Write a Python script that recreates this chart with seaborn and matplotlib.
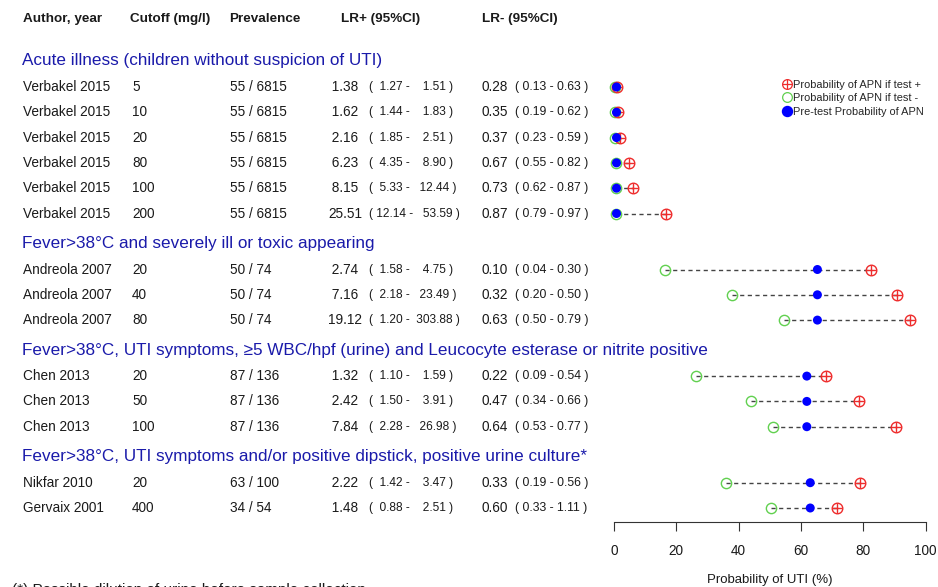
import matplotlib
matplotlib.use("Agg")
import matplotlib.pyplot as plt
import seaborn as sns
import pandas as pd
from matplotlib.lines import Line2D

# ---- data ----
sections = [
    "Acute illness (children without suspicion of UTI)",
    "Fever>38°C and severely ill or toxic appearing",
    "Fever>38°C, UTI symptoms, ≥5 WBC/hpf (urine) and Leucocyte esterase or nitrite positive",
    "Fever>38°C, UTI symptoms and/or positive dipstick, positive urine culture*",
]
section_of = [0, 0, 0, 0, 0, 0, 1, 1, 1, 2, 2, 2, 3, 3]
authors = ["Verbakel 2015"] * 6 + ["Andreola 2007"] * 3 + ["Chen 2013"] * 3 + ["Nikfar 2010", "Gervaix 2001"]
cutoffs = [5, 10, 20, 80, 100, 200, 20, 40, 80, 20, 50, 100, 20, 400]
prevalence = ["55 / 6815"] * 6 + ["50 / 74"] * 3 + ["87 / 136"] * 3 + ["63 / 100", "34 / 54"]
lrp = [1.38, 1.62, 2.16, 6.23, 8.15, 25.51, 2.74, 7.16, 19.12, 1.32, 2.42, 7.84, 2.22, 1.48]
lrp_lo = [1.27, 1.44, 1.85, 4.35, 5.33, 12.14, 1.58, 2.18, 1.20, 1.10, 1.50, 2.28, 1.42, 0.88]
lrp_hi = [1.51, 1.83, 2.51, 8.90, 12.44, 53.59, 4.75, 23.49, 303.88, 1.59, 3.91, 26.98, 3.47, 2.51]
lrn = [0.28, 0.35, 0.37, 0.67, 0.73, 0.87, 0.10, 0.32, 0.63, 0.22, 0.47, 0.64, 0.33, 0.60]
lrn_lo = [0.13, 0.19, 0.23, 0.55, 0.62, 0.79, 0.04, 0.20, 0.50, 0.09, 0.34, 0.53, 0.19, 0.33]
lrn_hi = [0.63, 0.62, 0.59, 0.82, 0.87, 0.97, 0.30, 0.50, 0.79, 0.54, 0.66, 0.77, 0.56, 1.11]

# probabilities (%) estimated from the dot plot
p_pre = [0.8] * 6 + [65.3] * 3 + [61.9] * 3 + [63.0, 63.0]
p_neg = [0.2, 0.3, 0.3, 0.5, 0.6, 0.7, 16.5, 38.0, 54.7, 26.2, 44.0, 51.2, 35.8, 50.5]
p_pos = [1.1, 1.3, 1.8, 4.8, 6.0, 16.6, 82.6, 90.8, 94.9, 67.9, 78.7, 90.5, 79.1, 71.6]

headers = ["Author, year", "Cutoff (mg/l)", "Prevalence", "LR+ (95%CI)", "LR- (95%CI)"]
xticks = [0, 20, 40, 60, 80, 100]

W, H = 938, 587
RED, GREEN, BLUE = "#EE2C2C", "#61D04F", "#0000FF"
TXT, SEC = "#1a1a1a", "#1A1AAA"
NARROW = ["Liberation Sans Narrow", "Liberation Sans"]

sns.set_theme(style="white")
plt.rcParams["font.family"] = ["Liberation Sans", "DejaVu Sans"]

# vertical layout of the rows (pixels from top)
ys_title, ys_row = [], []
y = 61 - 30
for s in range(len(sections)):
    y += 30
    ys_title.append(y)
    y += 26 - 25.3
    for i in range(len(authors)):
        if section_of[i] == s:
            y += 25.3
            ys_row.append(y)

df = pd.DataFrame({"y": ys_row, "pre": p_pre, "neg": p_neg, "pos": p_pos})

fig = plt.figure(figsize=(W / 100, H / 100), dpi=100)
bg = fig.add_axes([0, 0, 1, 1])
bg.set_xlim(0, W)
bg.set_ylim(H, 0)
bg.axis("off")

# table text
for x, h in zip([23, 130, 229, 341, 482], headers):
    bg.text(x, 19, h, fontsize=9.7, fontweight="bold", color=TXT, va="center")
for s, yt in zip(sections, ys_title):
    bg.text(22, yt, s, fontsize=12.3, color=SEC, va="center")
for i, yr in enumerate(ys_row):
    bg.text(23, yr, authors[i], fontsize=9.8, color=TXT, va="center")
    bg.text(132, yr, str(cutoffs[i]), fontsize=9.8, color=TXT, va="center")
    bg.text(230, yr, prevalence[i], fontsize=9.8, color=TXT, va="center")
    bg.text(328, yr, "%5.2f" % lrp[i], fontsize=9.8, color=TXT, va="center")
    bg.text(369, yr, "( %5.2f - %7.2f )" % (lrp_lo[i], lrp_hi[i]), fontsize=8.6, color=TXT, va="center")
    bg.text(482, yr, "%.2f" % lrn[i], fontsize=9.8, color=TXT, va="center")
    bg.text(515, yr, "( %.2f - %.2f )" % (lrn_lo[i], lrn_hi[i]), fontsize=8.8, color=TXT, va="center")

bg.text(770, 580, "Probability of UTI (%)", fontsize=9.5, color=TXT, ha="center", va="center",
        family=NARROW)
bg.text(12, 583, "(*) Possible dilution of urine before sample collection", fontsize=11,
        color=TXT, va="top")

# dot plot
ax = fig.add_axes([614 / W, 0, 311.5 / W, 1])
ax.set_facecolor("none")
ax.set_xlim(0, 100)
ax.set_ylim(H, 0)

ax.hlines(df["y"], df["neg"], df["pos"], colors="#444444", linewidth=1,
          linestyles=(0, (3, 2.5)), zorder=1, clip_on=False)
ax.plot(df["neg"], df["y"], ls="none", marker="o", ms=7.4, mfc="none", mec=GREEN,
        mew=1, zorder=2, clip_on=False)
ax.plot(df["pos"], df["y"], ls="none", marker="o", ms=7.6, mfc="none", mec=RED,
        mew=1, zorder=2, clip_on=False)
ax.plot(df["pos"], df["y"], ls="none", marker="+", ms=7.6, mec=RED,
        mew=1, zorder=2, clip_on=False)
sns.scatterplot(data=df, x="pre", y="y", color=BLUE, s=42, edgecolor="none",
                ax=ax, zorder=3, clip_on=False, legend=False)

for side in ["left", "top", "right"]:
    ax.spines[side].set_visible(False)
ax.spines["bottom"].set_position(("data", 522))
ax.spines["bottom"].set_bounds(0, 100)
ax.spines["bottom"].set_color("#333333")
ax.spines["bottom"].set_linewidth(0.8)
ax.set_xticks(xticks)
ax.set_xticklabels([str(t) for t in xticks], family=NARROW)
ax.tick_params(axis="x", bottom=True, length=6.5, width=0.8, color="#333333", pad=9,
               labelsize=9.8, labelcolor=TXT, direction="out")
ax.set_yticks([])
ax.set_xlabel("")
ax.set_ylabel("")

# legend
h_pos = (Line2D([], [], ls="none", marker="o", ms=7, mfc="none", mec=RED, mew=0.9),
         Line2D([], [], ls="none", marker="+", ms=7, mec=RED, mew=0.9))
h_neg = Line2D([], [], ls="none", marker="o", ms=7, mfc="none", mec=GREEN, mew=0.9)
h_pre = Line2D([], [], ls="none", marker="o", ms=7.2, mfc=BLUE, mec=BLUE)
fig.legend([h_pos, h_neg, h_pre],
           ["Probability of APN if test +", "Probability of APN if test -", "Pre-test Probability of APN"],
           loc="upper left", bbox_to_anchor=(783 / W, 1 - 80 / H), frameon=False, fontsize=7.9,
           handlelength=0.75, handletextpad=0.2, labelspacing=0.3, borderpad=0, borderaxespad=0)

fig.savefig("out.png", dpi=100)
